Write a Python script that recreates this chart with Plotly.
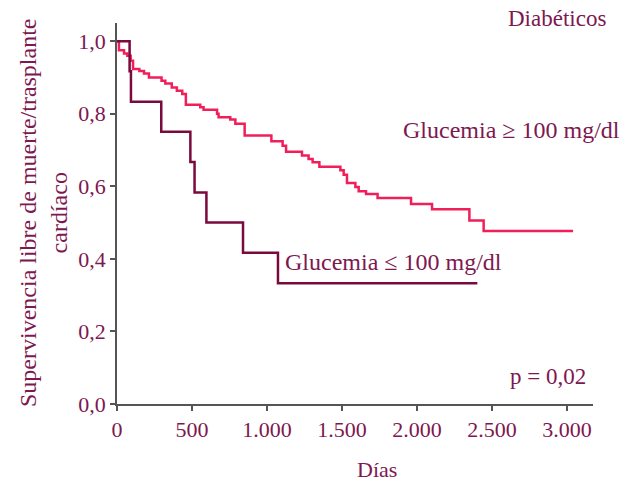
import plotly.graph_objects as go

# Glucemia >= 100 mg/dl (pink)
high_days = [0, 13, 47, 69, 91, 107, 149, 180, 213, 297, 322, 365, 399, 435, 459,
             555, 577, 667, 677, 755, 789, 851, 1029, 1104, 1127, 1233, 1277, 1304,
             1349, 1489, 1511, 1533, 1589, 1611, 1660, 1737, 1960, 2100, 2349, 2444, 3040]
high_surv = [1.0, 0.975, 0.966, 0.960, 0.946, 0.923, 0.918, 0.911, 0.900, 0.891, 0.883,
             0.872, 0.863, 0.854, 0.825, 0.818, 0.811, 0.800, 0.790, 0.784, 0.772, 0.740,
             0.724, 0.712, 0.695, 0.685, 0.675, 0.666, 0.654, 0.644, 0.632, 0.609, 0.598,
             0.586, 0.579, 0.568, 0.551, 0.537, 0.506, 0.477, 0.477]

# Glucemia <= 100 mg/dl (dark)
low_days = [0, 84, 93, 295, 489, 517, 596, 840, 1073, 2402]
low_surv = [1.0, 0.917, 0.833, 0.750, 0.667, 0.583, 0.500, 0.417, 0.333, 0.333]

x_ticks = [0, 500, 1000, 1500, 2000, 2500, 3000]
x_tick_labels = ["0", "500", "1.000", "1.500", "2.000", "2.500", "3.000"]
y_ticks = [0, 0.2, 0.4, 0.6, 0.8, 1.0]
y_tick_labels = ["0,0", "0,2", "0,4", "0,6", "0,8", "1,0"]

PINK = "#f01f5a"
DARK = "#7a0a3e"
TEXT = "#7d1850"
AXIS = "#555555"
FONT = "Liberation Serif"

fig = go.Figure()
fig.add_trace(go.Scatter(x=high_days, y=high_surv, mode="lines",
                         line=dict(color=PINK, width=2.5, shape="hv"),
                         showlegend=False, hoverinfo="skip"))
fig.add_trace(go.Scatter(x=low_days, y=low_surv, mode="lines",
                         line=dict(color=DARK, width=2.5, shape="hv"),
                         showlegend=False, hoverinfo="skip"))

fig.update_layout(
    width=636, height=483,
    margin=dict(l=117, r=43, t=23, b=79),
    paper_bgcolor="white", plot_bgcolor="white",
    font=dict(family=FONT, size=22, color=TEXT),
    xaxis=dict(range=[0, 3173], tickvals=x_ticks, ticktext=x_tick_labels,
               showgrid=False, zeroline=False, showline=True, linecolor=AXIS,
               linewidth=1.5, ticks="outside", ticklen=5, tickcolor=AXIS,
               tickwidth=1.5, tickfont=dict(size=22, color=TEXT)),
    yaxis=dict(range=[0, 1.05], tickvals=y_ticks, ticktext=y_tick_labels,
               showgrid=False, zeroline=False, showline=True, linecolor=AXIS,
               linewidth=1.5, ticks="outside", ticklen=5, tickcolor=AXIS,
               tickwidth=1.5, tickfont=dict(size=22, color=TEXT)),
)

PW, PH = 476, 381  # plot area in pixels


def px(xp):
    return (xp - 117) / PW


def py(yp):
    return (404 - yp) / PH


annotations = [
    dict(text="Días", x=px(377), y=py(470), xref="paper", yref="paper",
         xanchor="center", yanchor="middle", showarrow=False, font=dict(size=22)),
    dict(text="Supervivencia libre de muerte/trasplante<br>cardíaco", x=px(43), y=py(213),
         xref="paper", yref="paper", xanchor="center", yanchor="middle",
         textangle=-90, showarrow=False, font=dict(size=24)),
    dict(text="Diabéticos", x=px(557), y=py(18), xref="paper", yref="paper",
         xanchor="center", yanchor="middle", showarrow=False, font=dict(size=23)),
    dict(text="Glucemia ≥ 100 mg/dl", x=2630, y=0.756, xref="x", yref="y",
         xanchor="center", yanchor="middle", showarrow=False, font=dict(size=24)),
    dict(text="Glucemia ≤ 100 mg/dl", x=1845, y=0.392, xref="x", yref="y",
         xanchor="center", yanchor="middle", showarrow=False, font=dict(size=24)),
    dict(text="p = 0,02", x=2875, y=0.077, xref="x", yref="y",
         xanchor="center", yanchor="middle", showarrow=False, font=dict(size=23)),
]
fig.update_layout(annotations=annotations)

fig.write_html("out.html", config={"displayModeBar": False},
               post_script="document.body.style.margin='0';")
